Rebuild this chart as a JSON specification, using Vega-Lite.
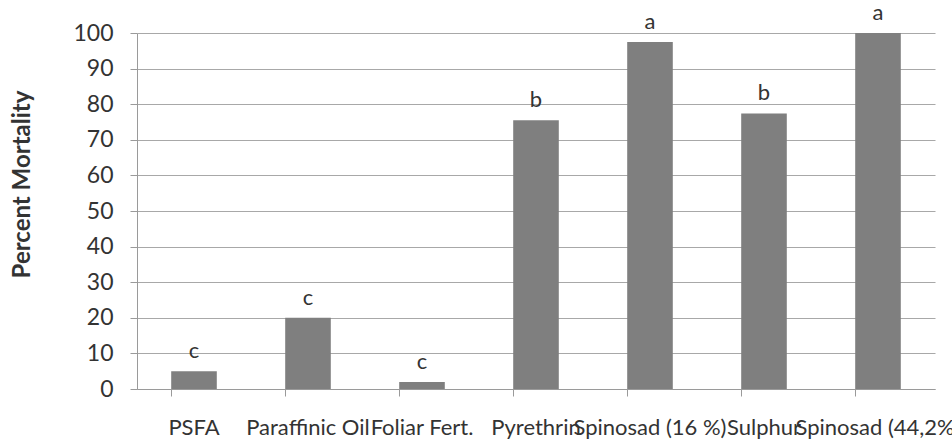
{
  "$schema": "https://vega.github.io/schema/vega-lite/v6.json",
  "autosize": {"type": "none"},
  "padding": {"left": 137, "top": 33, "right": 17, "bottom": 52},
  "width": 798,
  "height": 356,
  "background": "white",
  "config": {
    "view": {"stroke": null},
    "font": "Lato"
  },
  "data": {
    "values": [
      {"treatment": "PSFA", "mortality": 5, "group": "c"},
      {"treatment": "Paraffinic Oil", "mortality": 20, "group": "c"},
      {"treatment": "Foliar Fert.", "mortality": 2, "group": "c"},
      {"treatment": "Pyrethrin", "mortality": 75.5, "group": "b"},
      {"treatment": "Spinosad (16 %)", "mortality": 97.5, "group": "a"},
      {"treatment": "Sulphur", "mortality": 77.4, "group": "b"},
      {"treatment": "Spinosad (44,2%)", "mortality": 100, "group": "a"}
    ]
  },
  "encoding": {
    "x": {
      "field": "treatment",
      "type": "nominal",
      "sort": null,
      "scale": {"paddingInner": 0.6, "paddingOuter": 0.3},
      "axis": {
        "title": null,
        "labelAngle": 0,
        "labelFont": "Lato",
        "labelFontSize": 22,
        "labelColor": "#333333",
        "labelPadding": 21,
        "labelLimit": 400,
        "labelOverlap": false,
        "bandPosition": 0,
        "tickSize": 7,
        "tickColor": "#9a9a9a",
        "domainColor": "#9a9a9a",
        "grid": false
      }
    },
    "y": {
      "field": "mortality",
      "type": "quantitative",
      "scale": {"domain": [0, 100], "nice": false},
      "axis": {
        "title": "Percent Mortality",
        "titleFont": "Lato",
        "titleFontSize": 24,
        "titleFontWeight": "bold",
        "titleColor": "#333333",
        "titleAngle": -90,
        "titleAlign": "center",
        "titleBaseline": "bottom",
        "titleX": -103,
        "titleY": 151,
        "values": [0, 10, 20, 30, 40, 50, 60, 70, 80, 90, 100],
        "labelFont": "Lato",
        "labelFontSize": 23,
        "labelColor": "#333333",
        "labelPadding": 17,
        "tickSize": 7,
        "tickColor": "#9a9a9a",
        "domainColor": "#9a9a9a",
        "gridColor": "#a8a8a8",
        "gridWidth": 1.2
      }
    }
  },
  "layer": [
    {"mark": {"type": "bar", "color": "#7f7f7f"}},
    {
      "mark": {"type": "text", "baseline": "alphabetic", "dy": -13, "fontSize": 22, "color": "#333333", "font": "Lato"},
      "encoding": {"text": {"field": "group"}}
    }
  ]
}
